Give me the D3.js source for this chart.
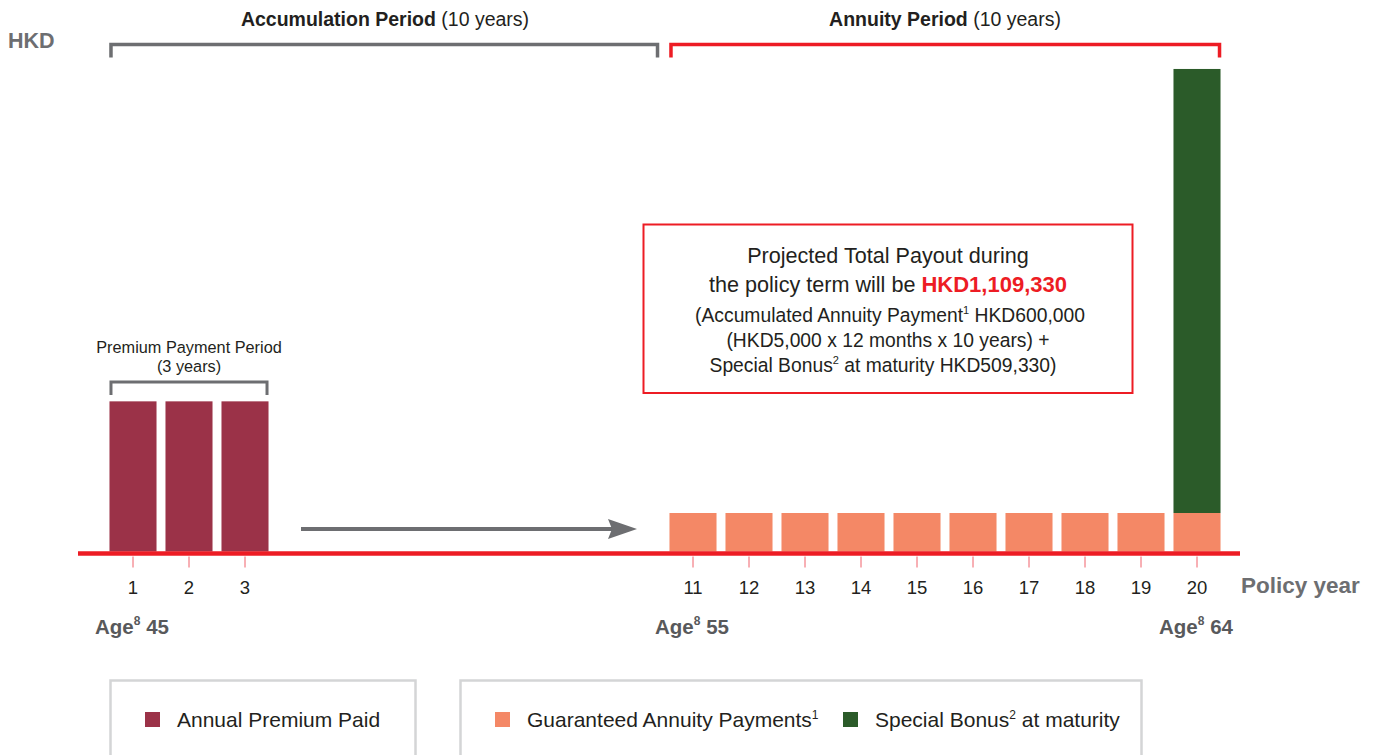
<!DOCTYPE html>
<html>
<head>
<meta charset="utf-8">
<script src="https://cdn.jsdelivr.net/npm/d3@7/dist/d3.min.js"></script>
<style>
body { margin: 0; background: #fff; }
text { font-family: "Liberation Sans", Arial, Helvetica, sans-serif; }
</style>
</head>
<body>
<div id="chart"></div>
<script>
// policy years on the x axis
const years = d3.range(1, 21);
const labelledYears = [1, 2, 3, 11, 12, 13, 14, 15, 16, 17, 18, 19, 20];

// bar data (HKD)
const premiumYears = [1, 2, 3];
const premiumValues = [234000, 234000, 234000];
const annuityYears = [11, 12, 13, 14, 15, 16, 17, 18, 19, 20];
const annuityValues = [60000, 60000, 60000, 60000, 60000, 60000, 60000, 60000, 60000, 60000];
const bonusYears = [20];
const bonusValues = [692000];

// ages under the axis
const ageYears = [1, 11, 20];
const ages = [45, 55, 64];

const RED = "#ed1c24", GRAY = "#6d6e71", DARK = "#231f20";
const PREMIUM = "#9b3248", ANNUITY = "#f48866", BONUS = "#2b5b29";

const width = 1379, height = 755;
const baseY = 551.5;

let svg = d3.select("#chart").append("svg")
    .attr("width", width)
    .attr("height", height);

// scales
let x = d3.scaleBand()
    .domain(years)
    .range([105, 1225])
    .paddingInner(0.16)
    .paddingOuter(0.08);

let y = d3.scaleLinear()
    .domain([0, 60000])
    .range([baseY, baseY - 38.5]);

const bw = x.bandwidth();
const cx = d => x(d) + bw / 2;

// premium bars
svg.append("g").selectAll("rect")
    .data(premiumYears.map((yr, i) => ({year: yr, value: premiumValues[i]})))
    .enter().append("rect")
    .attr("x", d => x(d.year))
    .attr("y", d => y(d.value))
    .attr("width", bw)
    .attr("height", d => baseY - y(d.value))
    .attr("fill", PREMIUM);

// annuity bars
svg.append("g").selectAll("rect")
    .data(annuityYears.map((yr, i) => ({year: yr, value: annuityValues[i]})))
    .enter().append("rect")
    .attr("x", d => x(d.year))
    .attr("y", d => y(d.value))
    .attr("width", bw)
    .attr("height", d => baseY - y(d.value))
    .attr("fill", ANNUITY);

// special bonus stacked on top of the last annuity payment
svg.append("g").selectAll("rect")
    .data(bonusYears.map((yr, i) => ({year: yr, value: bonusValues[i], base: annuityValues[annuityYears.indexOf(yr)]})))
    .enter().append("rect")
    .attr("x", d => x(d.year))
    .attr("y", d => y(d.base + d.value))
    .attr("width", bw)
    .attr("height", d => y(d.base) - y(d.base + d.value))
    .attr("fill", BONUS);

// x axis: ticks + labels
let axis = d3.axisBottom(x)
    .tickValues(labelledYears)
    .tickSize(11)
    .tickPadding(13);

let gx = svg.append("g")
    .attr("transform", "translate(0," + (baseY + 5) + ")")
    .call(axis);
gx.select(".domain").remove();
gx.selectAll(".tick line").attr("stroke", "#f0606a").attr("stroke-width", 1);
gx.selectAll(".tick text")
    .attr("font-size", 18.5)
    .attr("fill", DARK)
    .style("font-family", "'Liberation Sans', Arial, sans-serif");

// red baseline
svg.append("line")
    .attr("x1", 78).attr("x2", 1240)
    .attr("y1", baseY + 2).attr("y2", baseY + 2)
    .attr("stroke", RED)
    .attr("stroke-width", 4.5);

svg.append("text")
    .attr("x", 1241).attr("y", 593)
    .attr("font-size", 22.5).attr("font-weight", "bold")
    .attr("fill", GRAY)
    .text("Policy year");

// age labels
let age = svg.append("g").selectAll("text")
    .data(ageYears.map((yr, i) => ({year: yr, age: ages[i]})))
    .enter().append("text")
    .attr("x", d => cx(d.year) - 1)
    .attr("y", 634)
    .attr("text-anchor", "middle")
    .attr("font-size", 20.5).attr("font-weight", "bold")
    .attr("fill", "#58595b");
age.append("tspan").text("Age");
age.append("tspan").attr("font-size", 12).attr("dy", -9).text("8");
age.append("tspan").attr("dy", 9).text(d => " " + d.age);

// HKD unit label
svg.append("text")
    .attr("x", 8).attr("y", 48)
    .attr("font-size", 21.5).attr("font-weight", "bold")
    .attr("fill", GRAY)
    .text("HKD");

// brackets
function bracket(x0, x1, top, drop, color, sw) {
    svg.append("path")
        .attr("d", "M" + x0 + "," + (top + drop) + "V" + top + "H" + x1 + "V" + (top + drop))
        .attr("fill", "none")
        .attr("stroke", color)
        .attr("stroke-width", sw);
}
bracket(x(1) + 1.5, x(10) + bw - 3, 44.5, 13, GRAY, 3.5);
bracket(x(11) + 1.5, x(20) + bw - 1, 44.5, 13, RED, 3.5);
bracket(x(1) + 1.5, x(3) + bw - 1.5, 382, 13, GRAY, 3);

// period titles
function periodTitle(xc, bold, rest) {
    let t = svg.append("text")
        .attr("x", xc).attr("y", 26)
        .attr("text-anchor", "middle")
        .attr("font-size", 19.5)
        .attr("fill", DARK);
    t.append("tspan").attr("font-weight", "bold").text(bold);
    t.append("tspan").text(rest);
}
periodTitle((x(1) + x(10) + bw) / 2, "Accumulation Period", " (10 years)");
periodTitle((x(11) + x(20) + bw) / 2, "Annuity Period", " (10 years)");

svg.append("text")
    .attr("x", cx(2)).attr("y", 353)
    .attr("text-anchor", "middle").attr("font-size", 16.3).attr("fill", DARK)
    .text("Premium Payment Period");
svg.append("text")
    .attr("x", cx(2)).attr("y", 371.5)
    .attr("text-anchor", "middle").attr("font-size", 16.3).attr("fill", DARK)
    .text("(3 years)");

// arrow accumulation -> annuity
svg.append("line")
    .attr("x1", 301).attr("x2", 615)
    .attr("y1", 529).attr("y2", 529)
    .attr("stroke", GRAY).attr("stroke-width", 4);
svg.append("path")
    .attr("d", "M608,519 L637,529 L608,539 L612,529 Z")
    .attr("fill", GRAY);

// payout box
svg.append("rect")
    .attr("x", 643.5).attr("y", 224.5)
    .attr("width", 489).attr("height", 168.5)
    .attr("fill", "#fff")
    .attr("stroke", RED).attr("stroke-width", 2);

const boxX = 888;
svg.append("text")
    .attr("x", boxX).attr("y", 263)
    .attr("text-anchor", "middle").attr("font-size", 21.6).attr("fill", DARK)
    .text("Projected Total Payout during");
let l2 = svg.append("text")
    .attr("x", boxX).attr("y", 292)
    .attr("text-anchor", "middle").attr("font-size", 21.6).attr("fill", DARK);
l2.append("tspan").text("the policy term will be ");
l2.append("tspan").attr("font-weight", "bold").attr("fill", RED).attr("font-size", 22).text("HKD1,109,330");

let l3 = svg.append("text")
    .attr("x", boxX + 2).attr("y", 322)
    .attr("text-anchor", "middle").attr("font-size", 19.3).attr("fill", DARK);
l3.append("tspan").text("(Accumulated Annuity Payment");
l3.append("tspan").attr("font-size", 11).attr("dy", -8).text("1");
l3.append("tspan").attr("dy", 8).text(" HKD600,000");

svg.append("text")
    .attr("x", boxX).attr("y", 347)
    .attr("text-anchor", "middle").attr("font-size", 19.3).attr("fill", DARK)
    .text("(HKD5,000 x 12 months x 10 years) +");

let l5 = svg.append("text")
    .attr("x", boxX - 5).attr("y", 372)
    .attr("text-anchor", "middle").attr("font-size", 19.3).attr("fill", DARK);
l5.append("tspan").text("Special Bonus");
l5.append("tspan").attr("font-size", 11).attr("dy", -8).text("2");
l5.append("tspan").attr("dy", 8).text(" at maturity HKD509,330)");

// legend boxes
svg.append("rect")
    .attr("x", 110.5).attr("y", 680.5)
    .attr("width", 305).attr("height", 100)
    .attr("fill", "none").attr("stroke", "#d4d5d6").attr("stroke-width", 2.5);
svg.append("rect")
    .attr("x", 460.5).attr("y", 680.5)
    .attr("width", 681).attr("height", 100)
    .attr("fill", "none").attr("stroke", "#d4d5d6").attr("stroke-width", 2.5);

function legendItem(lx, color, parts) {
    svg.append("rect")
        .attr("x", lx).attr("y", 712)
        .attr("width", 15).attr("height", 15)
        .attr("fill", color);
    let t = svg.append("text")
        .attr("x", lx + 32).attr("y", 727)
        .attr("font-size", 21).attr("fill", DARK);
    let shift = 0;
    parts.forEach(p => {
        if (p.sup) {
            t.append("tspan").attr("font-size", 12).attr("dy", -8).text(p.sup);
            shift = 8;
        } else {
            t.append("tspan").attr("dy", shift).text(p.text);
            shift = 0;
        }
    });
}
legendItem(145, PREMIUM, [{text: "Annual Premium Paid"}]);
legendItem(495, ANNUITY, [{text: "Guaranteed Annuity Payments"}, {sup: "1"}]);
legendItem(843, BONUS, [{text: "Special Bonus"}, {sup: "2"}, {text: " at maturity"}]);
</script>
</body>
</html>
